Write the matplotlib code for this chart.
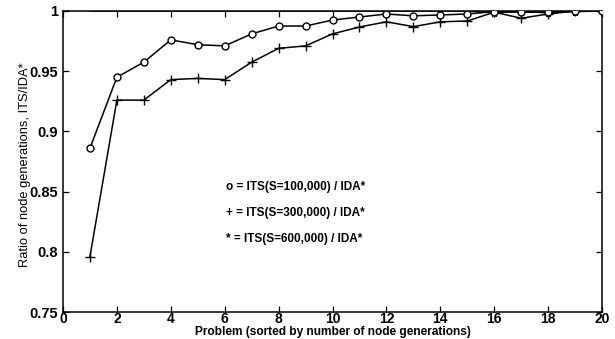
import matplotlib
matplotlib.use("Agg")
import matplotlib.pyplot as plt
from matplotlib.ticker import FixedLocator, FixedFormatter

problems = list(range(1, 21))
its_100k = [0.886, 0.945, 0.9575, 0.976, 0.972, 0.971, 0.981, 0.9875, 0.9875, 0.9925,
            0.995, 0.9975, 0.996, 0.9967, 0.9975, 0.9995, 0.999, 0.999, 1.0, 1.0]
its_300k = [0.796, 0.926, 0.926, 0.943, 0.944, 0.943, 0.9575, 0.969, 0.971, 0.981,
            0.9867, 0.991, 0.987, 0.991, 0.9917, 0.999, 0.994, 0.9975, 1.0, 1.0]
its_600k = [1.0, 1.0, 1.0, 1.0, 1.0, 1.0, 1.0, 1.0, 1.0, 1.0,
            1.0, 1.0, 1.0, 1.0, 1.0, 0.9985, 0.9995, 0.9985, 0.9995, 1.0]
x_ticks = list(range(0, 21, 2))
y_ticks = [0.75, 0.8, 0.85, 0.9, 0.95, 1.0]
y_tick_labels = ["0.75", "0.8", "0.85", "0.9", "0.95", "1"]
legend_lines = ["o = ITS(S=100,000) / IDA*",
                "+ = ITS(S=300,000) / IDA*",
                "* = ITS(S=600,000) / IDA*"]

plt.rcParams['font.family'] = ['Liberation Sans', 'DejaVu Sans']

fig = plt.figure(figsize=(6.15, 3.39), dpi=100)
ax = fig.add_axes([0.1024, 0.0796, 0.8766, 0.888])

ax.plot(problems, its_600k, color='black', lw=1.1, marker='*', ms=5, zorder=3,
        markevery=list(range(15, 20)))
ax.plot(problems, its_300k, color='black', lw=1.1, marker='+', ms=7, mew=1.0, zorder=3)
ax.plot(problems, its_100k, color='black', lw=1.1, marker='o', ms=5, mfc='white',
        mew=1.0, zorder=4)

ax.set_xlim(0, 20)
ax.set_ylim(0.75, 1.0)
ax.xaxis.set_major_locator(FixedLocator(x_ticks))
ax.set_xticklabels([str(t) for t in x_ticks])
ax.yaxis.set_major_locator(FixedLocator(y_ticks))
ax.yaxis.set_major_formatter(FixedFormatter(y_tick_labels))
ax.tick_params(direction='in', top=True, right=True, length=4, width=0.9,
               labelsize=10.5)
ax.tick_params(axis='y', pad=3.5)
ax.tick_params(axis='x', pad=0, labelsize=10)
for lab in ax.get_xticklabels() + ax.get_yticklabels():
    lab.set_fontweight('bold')
for sp in ax.spines.values():
    sp.set_linewidth(1.1)

ax.set_xlabel("Problem (sorted by number of node generations)", fontsize=8.6,
              fontweight='bold', va='top')
ax.xaxis.set_label_coords(0.5, -0.047)
ax.set_ylabel("Ratio of node generations, ITS/IDA*", fontsize=9.3)
ax.yaxis.label.set_fontstretch('condensed')
ax.yaxis.set_label_coords(-0.06, 0.49)

for i, (txt, yv) in enumerate(zip(legend_lines, [0.854, 0.8325, 0.811])):
    ax.text(6.05, yv, txt, fontsize=8.5, fontweight='bold', va='center', ha='left')

fig.savefig("out.png", dpi=100)
